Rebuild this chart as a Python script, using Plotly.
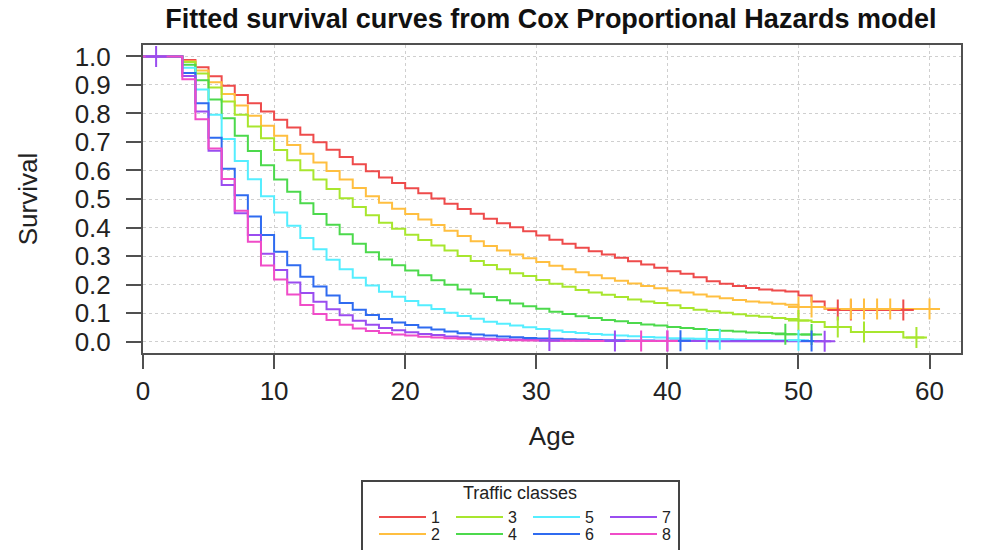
import plotly.graph_objects as go

# ---------------- data (survival at integer ages 0,1,2,...; step function) ----------------
classes = ["1", "2", "3", "4", "5", "6", "7", "8"]
colors = ["#EE4B4B", "#FFBF40", "#A8E62E", "#4CD94C", "#55EEFF", "#2F6BF0", "#9A4DF0", "#F04CC8"]

surv_1 = [1, 1, 1, 0.987, 0.962, 0.93, 0.897, 0.865, 0.836, 0.807, 0.778,
          0.751, 0.725, 0.699, 0.673, 0.647, 0.622, 0.597, 0.575, 0.556, 0.538,
          0.52, 0.502, 0.483, 0.465, 0.448, 0.431, 0.415, 0.401, 0.387, 0.372,
          0.357, 0.343, 0.329, 0.317, 0.305, 0.294, 0.282, 0.27, 0.259, 0.247,
          0.238, 0.226, 0.212, 0.203, 0.195, 0.188, 0.183, 0.179, 0.176, 0.162,
          0.141, 0.115, 0.111, 0.111, 0.111, 0.111, 0.111, 0.111]
surv_2 = [1, 1, 1, 0.983, 0.951, 0.909, 0.868, 0.828, 0.792, 0.757, 0.722,
          0.689, 0.659, 0.628, 0.598, 0.568, 0.539, 0.51, 0.487, 0.466, 0.447,
          0.428, 0.409, 0.389, 0.37, 0.352, 0.335, 0.319, 0.305, 0.292, 0.279,
          0.266, 0.254, 0.243, 0.233, 0.222, 0.213, 0.204, 0.195, 0.187, 0.179,
          0.172, 0.165, 0.158, 0.152, 0.146, 0.141, 0.137, 0.133, 0.129, 0.121,
          0.121, 0.115, 0.114, 0.114, 0.114, 0.114, 0.114, 0.114, 0.114, 0.114]
surv_3 = [1, 1, 1, 0.98, 0.94, 0.891, 0.842, 0.795, 0.754, 0.713, 0.672,
          0.636, 0.601, 0.568, 0.535, 0.503, 0.472, 0.443, 0.417, 0.396, 0.375,
          0.356, 0.337, 0.319, 0.30, 0.283, 0.269, 0.254, 0.24, 0.23, 0.216,
          0.203, 0.192, 0.181, 0.172, 0.164, 0.156, 0.148, 0.141, 0.135, 0.127,
          0.118, 0.112, 0.106, 0.101, 0.096, 0.091, 0.087, 0.083, 0.079, 0.074,
          0.069, 0.051, 0.051, 0.034, 0.034, 0.034, 0.034, 0.014, 0.014]
surv_4 = [1, 1, 1, 0.971, 0.916, 0.849, 0.783, 0.722, 0.668, 0.618, 0.568,
          0.525, 0.485, 0.447, 0.41, 0.376, 0.343, 0.313, 0.288, 0.268, 0.249,
          0.233, 0.215, 0.199, 0.183, 0.169, 0.156, 0.145, 0.134, 0.124, 0.115,
          0.105, 0.097, 0.089, 0.083, 0.076, 0.071, 0.065, 0.06, 0.056, 0.051,
          0.048, 0.044, 0.041, 0.038, 0.035, 0.032, 0.03, 0.028, 0.026, 0.025, 0.025]
surv_5 = [1, 1, 1, 0.96, 0.884, 0.795, 0.71, 0.633, 0.569, 0.51, 0.453,
          0.406, 0.363, 0.324, 0.287, 0.254, 0.224, 0.197, 0.175, 0.157, 0.142,
          0.127, 0.114, 0.101, 0.09, 0.08, 0.07, 0.063, 0.056, 0.05, 0.044,
          0.039, 0.034, 0.03, 0.027, 0.024, 0.021, 0.019, 0.016, 0.014, 0.012,
          0.011, 0.01, 0.009, 0.008, 0.007, 0.006, 0.006, 0.005, 0.005, 0.005]
surv_6 = [1, 1, 1, 0.942, 0.836, 0.715, 0.606, 0.513, 0.439, 0.374, 0.315,
          0.268, 0.227, 0.193, 0.162, 0.135, 0.112, 0.093, 0.079, 0.067, 0.058,
          0.049, 0.042, 0.035, 0.029, 0.025, 0.021, 0.018, 0.015, 0.013, 0.011,
          0.01, 0.008, 0.007, 0.006, 0.005, 0.005, 0.004, 0.004, 0.003, 0.003,
          0.003, 0.003, 0.002, 0.002, 0.002, 0.002, 0.002, 0.002, 0.002, 0.002, 0.002]
surv_7 = [1, 1, 1, 0.931, 0.807, 0.669, 0.549, 0.45, 0.374, 0.308, 0.251,
          0.207, 0.17, 0.14, 0.113, 0.092, 0.073, 0.059, 0.048, 0.04, 0.033,
          0.027, 0.023, 0.018, 0.015, 0.012, 0.01, 0.008, 0.007, 0.006, 0.005,
          0.004, 0.004, 0.003, 0.003, 0.003, 0.002, 0.002, 0.002, 0.002, 0.002,
          0.002, 0.002, 0.001, 0.001, 0.001, 0.001, 0.001, 0.001, 0.001, 0.001, 0.001, 0.001]
surv_8 = [1, 1, 1, 0.92, 0.78, 0.677, 0.57, 0.459, 0.35, 0.267, 0.218,
          0.165, 0.128, 0.097, 0.076, 0.059, 0.046, 0.037, 0.03, 0.025, 0.021,
          0.017, 0.014, 0.012, 0.01, 0.008, 0.007, 0.006, 0.005, 0.004, 0.004,
          0.003, 0.003, 0.003, 0.002, 0.002, 0.002, 0.002, 0.002, 0.002, 0.002]
survival = [surv_1, surv_2, surv_3, surv_4, surv_5, surv_6, surv_7, surv_8]

# last follow-up age of each curve
end_age = [58.7, 60.7, 59.6, 51.3, 50.5, 51.5, 52.5, 40.5]

# censoring marks (ages)
censor_1 = [53, 54, 58]
censor_2 = [50, 51, 54, 55, 56, 57, 60]
censor_3 = [50, 53, 55, 59]
censor_4 = [49, 51]
censor_5 = [43, 44, 50]
censor_6 = [41, 51]
censor_7 = [1, 31, 36, 40, 52]
censor_8 = [38, 40]
censors = [censor_1, censor_2, censor_3, censor_4, censor_5, censor_6, censor_7, censor_8]

x_ticks = [0, 10, 20, 30, 40, 50, 60]
y_ticks = [0.0, 0.1, 0.2, 0.3, 0.4, 0.5, 0.6, 0.7, 0.8, 0.9, 1.0]
y_ticktext = ["%.1f" % v for v in y_ticks]

# ---------------- figure ----------------
W, H = 997, 550
fig = go.Figure()

legend_of = {"1": "legend", "3": "legend", "5": "legend", "7": "legend",
             "2": "legend2", "4": "legend2", "6": "legend2", "8": "legend2"}

for name, vals, end, col in zip(classes, survival, end_age, colors):
    xs = list(range(len(vals))) + [end]
    ys = list(vals) + [vals[-1]]
    fig.add_trace(go.Scatter(
        x=xs, y=ys, mode="lines", name=name,
        line=dict(color=col, width=2, shape="hv"),
        legend=legend_of[name], legendgroup=name,
    ))

for name, vals, cens, col in zip(classes, survival, censors, colors):
    cy = [vals[int(t)] if int(t) < len(vals) else vals[-1] for t in cens]
    fig.add_trace(go.Scatter(
        x=cens, y=cy, mode="markers", name=name, showlegend=False,
        legendgroup=name,
        marker=dict(symbol="cross-thin", size=15, color=col,
                    line=dict(color=col, width=2)),
    ))

axis_font = dict(family="Liberation Sans, Arial, sans-serif", size=26, color="#222222")
leg_font = dict(family="Liberation Sans, Arial, sans-serif", size=16, color="#222222")

common_leg = dict(orientation="h", xref="container", yref="container",
                  x=374 / W, xanchor="left", yanchor="middle",
                  bgcolor="rgba(0,0,0,0)", font=leg_font, entrywidth=15,
                  itemwidth=47, tracegroupgap=0,
                  itemclick=False, itemdoubleclick=False)

fig.update_layout(
    width=W, height=H,
    margin=dict(l=143, r=36, t=45, b=197, autoexpand=False),
    paper_bgcolor="white", plot_bgcolor="white",
    font=dict(family="Liberation Sans, Arial, sans-serif", color="#222222"),
    title=dict(text="<b>Fitted survival curves from Cox Proportional Hazards model</b>",
               x=0.5525, xanchor="center", xref="container",
               y=1 - 19 / H, yanchor="middle", yref="container",
               font=dict(size=27, color="#111111")),
    xaxis=dict(range=[0, 62.4], tickvals=x_ticks, ticks="outside", ticklen=14,
               tickwidth=2, tickcolor="#505050", showline=True, mirror=True,
               linecolor="#505050", linewidth=2, showgrid=True,
               gridcolor="#cfcfcf", griddash="dot", gridwidth=1, zeroline=False,
               tickfont=axis_font, ticklabelstandoff=0, automargin=False,
               title=dict(text="Age", font=axis_font, standoff=22)),
    yaxis=dict(range=[-0.04, 1.04], tickvals=y_ticks, ticktext=y_ticktext,
               ticks="outside", ticklen=15, tickwidth=2, tickcolor="#505050",
               showline=True, mirror=True, linecolor="#505050", linewidth=2,
               showgrid=True, gridcolor="#cfcfcf", griddash="dot", gridwidth=1,
               zeroline=False, tickfont=axis_font, ticklabelstandoff=10,
               automargin=False,
               title=dict(text="Survival", font=axis_font, standoff=30)),
    legend=dict(common_leg, y=1 - 517 / H),
    legend2=dict(common_leg, y=1 - 534 / H),
    shapes=[dict(type="rect", xref="paper", yref="paper",
                 x0=(362 - 143) / 818, x1=(679 - 143) / 818,
                 y0=(353 - 570) / 308, y1=(353 - 481) / 308,
                 line=dict(color="#444444", width=2), fillcolor="rgba(0,0,0,0)")],
    annotations=[dict(text="Traffic classes", xref="paper", yref="paper",
                      x=(520 - 143) / 818, y=(353 - 493) / 308,
                      xanchor="center", yanchor="middle", showarrow=False,
                      font=dict(family="Liberation Sans, Arial, sans-serif",
                                size=18, color="#222222"))],
)

# the page's default 8px body margin would offset the figure; remove it
fig.write_html("out.html",
               config={"displayModeBar": False},
               post_script="document.body.style.margin='0';document.body.style.padding='0';")
